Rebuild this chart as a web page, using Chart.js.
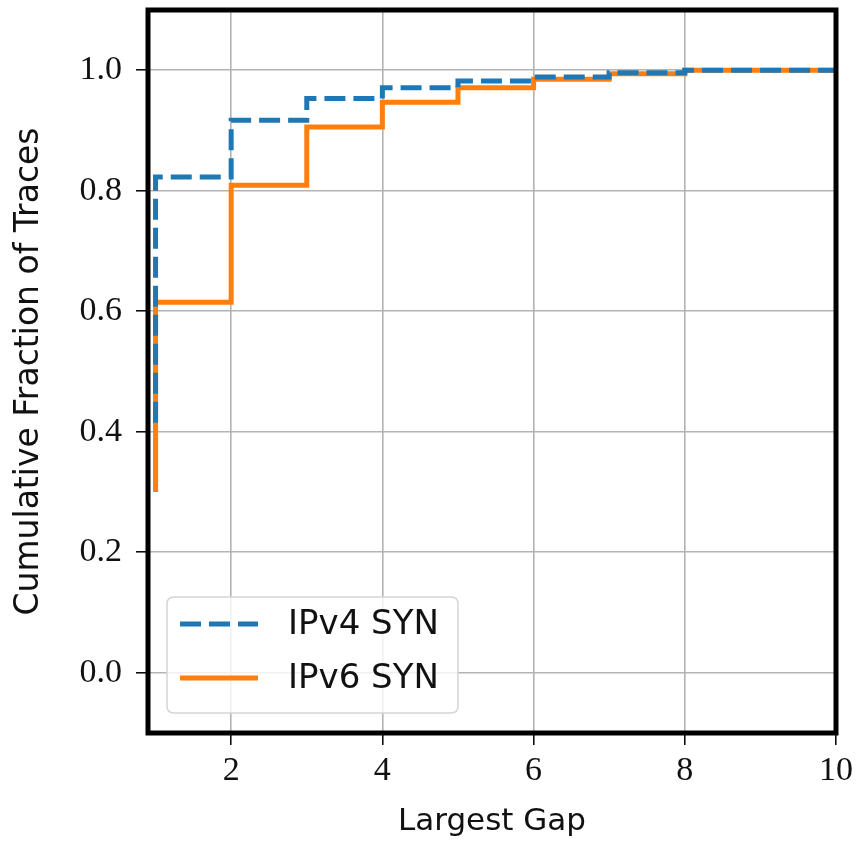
<!DOCTYPE html>
<html>
<head>
<meta charset="utf-8">
<script src="https://cdn.jsdelivr.net/npm/chart.js@4/dist/chart.umd.min.js"></script>
<style>
  html, body { margin: 0; padding: 0; background: #ffffff; }
  #wrap { width: 862px; height: 845px; }
</style>
</head>
<body>
<div id="wrap"><canvas id="c" width="862" height="845"></canvas></div>
<script>
// ---- data ----
const seriesNames = ["IPv4 SYN", "IPv6 SYN"];
const gapIPv4 = [1, 1, 2, 3, 4, 5, 6, 7, 8, 10];
const cdfIPv4 = [0.415, 0.823, 0.917, 0.953, 0.971, 0.982, 0.989, 0.996, 1.0, 1.0];
const gapIPv6 = [1, 1, 2, 3, 4, 5, 6, 7, 8, 10];
const cdfIPv6 = [0.30, 0.615, 0.809, 0.906, 0.947, 0.971, 0.985, 0.994, 1.0, 1.0];
const xTicks = [2, 4, 6, 8, 10];
const yTicks = [0.0, 0.2, 0.4, 0.6, 0.8, 1.0];
const xTitle = "Largest Gap";
const yTitle = "Cumulative Fraction of Traces";

const toPts = (xs, ys) => xs.map((x, i) => ({ x: x, y: ys[i] }));

const frameAndLegend = {
  id: 'frameAndLegend',
  afterDatasetsDraw(chart) {
    const { ctx, chartArea: a } = chart;
    ctx.save();
    // legend box
    const lx = a.left + 19, ly = a.bottom - 136, lw = 291, lh = 116, r = 7;
    ctx.beginPath();
    ctx.moveTo(lx + r, ly);
    ctx.lineTo(lx + lw - r, ly);
    ctx.quadraticCurveTo(lx + lw, ly, lx + lw, ly + r);
    ctx.lineTo(lx + lw, ly + lh - r);
    ctx.quadraticCurveTo(lx + lw, ly + lh, lx + lw - r, ly + lh);
    ctx.lineTo(lx + r, ly + lh);
    ctx.quadraticCurveTo(lx, ly + lh, lx, ly + lh - r);
    ctx.lineTo(lx, ly + r);
    ctx.quadraticCurveTo(lx, ly, lx + r, ly);
    ctx.closePath();
    ctx.fillStyle = 'rgba(255,255,255,0.8)';
    ctx.fill();
    ctx.lineWidth = 1.5;
    ctx.strokeStyle = '#d5d5d5';
    ctx.stroke();
    const ds = chart.data.datasets;
    const rows = [ly + 27, ly + 81];
    ds.forEach((d, i) => {
      ctx.beginPath();
      ctx.setLineDash(d.borderDash || []);
      ctx.lineWidth = d.borderWidth;
      ctx.strokeStyle = d.borderColor;
      ctx.moveTo(lx + 13, rows[i]);
      ctx.lineTo(lx + 91, rows[i]);
      ctx.stroke();
      ctx.setLineDash([]);
      ctx.fillStyle = '#111111';
      ctx.font = '34px "DejaVu Sans"';
      ctx.textBaseline = 'middle';
      ctx.textAlign = 'left';
      ctx.fillText(d.label, lx + 121, rows[i] + 1);
    });
    // axes frame
    ctx.lineWidth = 5;
    ctx.strokeStyle = '#000000';
    ctx.strokeRect(a.left, a.top, a.right - a.left, a.bottom - a.top);
    ctx.restore();
  }
};

new Chart(document.getElementById('c'), {
  type: 'scatter',
  data: {
    datasets: [
      {
        label: seriesNames[0],
        data: toPts(gapIPv4, cdfIPv4),
        showLine: true,
        stepped: 'before',
        borderColor: '#1f77b4',
        backgroundColor: '#1f77b4',
        borderWidth: 5,
        borderDash: [21, 8],
        borderCapStyle: 'butt',
        pointRadius: 0
      },
      {
        label: seriesNames[1],
        data: toPts(gapIPv6, cdfIPv6),
        showLine: true,
        stepped: 'before',
        borderColor: '#ff7f0e',
        backgroundColor: '#ff7f0e',
        borderWidth: 5,
        pointRadius: 0
      }
    ]
  },
  options: {
    responsive: false,
    animation: false,
    layout: { padding: { top: 10, right: 26, left: 0, bottom: 0 } },
    plugins: { legend: { display: false }, tooltip: { enabled: false } },
    scales: {
      x: {
        type: 'linear',
        min: 0.9,
        max: 10,
        afterBuildTicks: (s) => { s.ticks = xTicks.map(v => ({ value: v })); },
        afterFit: (s) => { s.height = 112; s.paddingLeft = 0; s.paddingRight = 0; },
        border: { display: false },
        grid: { color: '#b3b3b3', lineWidth: 1.6, tickColor: '#000000', tickLength: 12, tickWidth: 1.5 },
        ticks: { color: '#111111', font: { family: '"Liberation Serif"', size: 34 }, padding: 6, maxRotation: 0, callback: (v) => String(v) },
        title: { display: true, text: xTitle, color: '#111111', font: { family: '"DejaVu Sans"', size: 31 }, padding: { top: 0, bottom: 4 } }
      },
      y: {
        type: 'linear',
        min: -0.1,
        max: 1.1,
        afterBuildTicks: (s) => { s.ticks = yTicks.map(v => ({ value: v })); },
        afterFit: (s) => { s.width = 148; s.paddingTop = 0; s.paddingBottom = 0; },
        border: { display: false },
        grid: { color: '#b3b3b3', lineWidth: 1.6, tickColor: '#000000', tickLength: 12, tickWidth: 1.5 },
        ticks: { color: '#111111', font: { family: '"Liberation Serif"', size: 34 }, padding: 14, callback: (v) => Number(v).toFixed(1) },
        title: { display: true, text: yTitle, color: '#111111', font: { family: '"DejaVu Sans"', size: 33 }, padding: { top: 10, bottom: 0 } }
      }
    }
  },
  plugins: [frameAndLegend]
});
</script>
</body>
</html>
